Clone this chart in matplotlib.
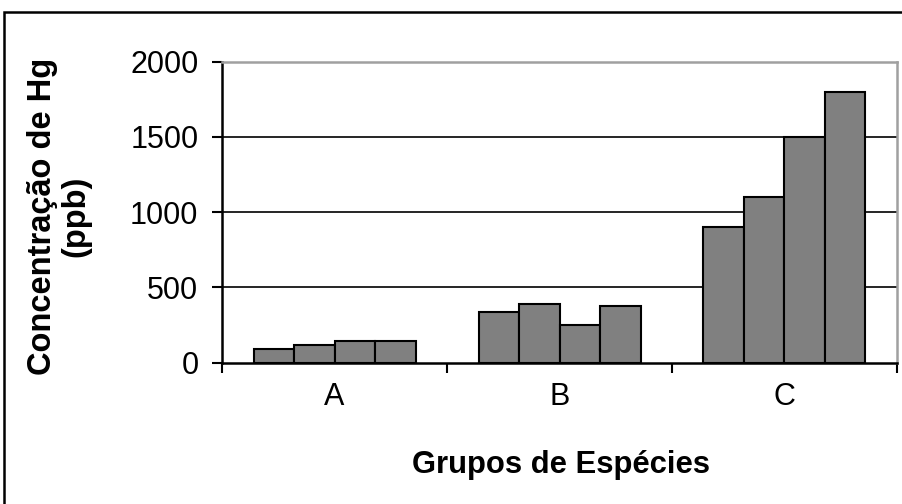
import matplotlib
matplotlib.use("Agg")
import matplotlib.pyplot as plt
import numpy as np
from matplotlib.patches import Rectangle

plt.rcParams['font.family'] = ['Liberation Sans', 'DejaVu Sans']

groups = ["A", "B", "C"]
series1 = [90, 340, 900]
series2 = [120, 390, 1100]
series3 = [145, 250, 1500]
series4 = [145, 380, 1800]
yticks = [0, 500, 1000, 1500, 2000]

W, H = 902, 504
fig = plt.figure(figsize=(W / 100, H / 100), dpi=100)
ax = fig.add_axes([222 / W, 1 - 362.7 / H, (897 - 222) / W, (362.7 - 61.7) / H])

x = np.arange(len(groups))
w = 0.18
allseries = [series1, series2, series3, series4]
for i, s in enumerate(allseries):
    ax.bar(x + (i - 1.5) * w, s, width=w, color="#808080", edgecolor="black",
           linewidth=1.5, zorder=3)

ax.set_xlim(-0.5, 2.5)
ax.set_ylim(0, 2000)
ax.set_yticks(yticks)
ax.set_yticklabels([str(v) for v in yticks], fontsize=22)
for v in yticks[1:-1]:
    ax.axhline(v, color="black", linewidth=1.2, zorder=1)

ax.set_xticks([-0.5, 0.5, 1.5, 2.5])
ax.set_xticklabels([])
ax.set_xticks(x, minor=True)
ax.set_xticklabels(groups, minor=True, fontsize=22)
ax.tick_params(axis='x', which='major', direction='out', length=7, width=1.5)
ax.tick_params(axis='x', which='minor', length=0, pad=14)
ax.tick_params(axis='y', direction='out', length=7, width=1.5, pad=10)

for side in ["left", "bottom"]:
    ax.spines[side].set_color("black")
    ax.spines[side].set_linewidth(1.8)
for side in ["top", "right"]:
    ax.spines[side].set_color("#a0a0a0")
    ax.spines[side].set_linewidth(1.8)

fig.text(561 / W, 1 - 465 / H, "Grupos de Espécies", fontsize=22.3, fontweight="bold",
         ha="center", va="center")
fig.text(59 / W, 1 - 216 / H, "Concentração de Hg\n(ppb)", fontsize=23.5, fontweight="bold",
         ha="center", va="center", rotation=90, multialignment="center", linespacing=1.12)

fig.patches.append(Rectangle((4 / W, -0.1), 1.2, (1 - 12 / H) + 0.1, transform=fig.transFigure,
                             fill=False, edgecolor="black", linewidth=1.8))

fig.savefig("out.png", dpi=100)
